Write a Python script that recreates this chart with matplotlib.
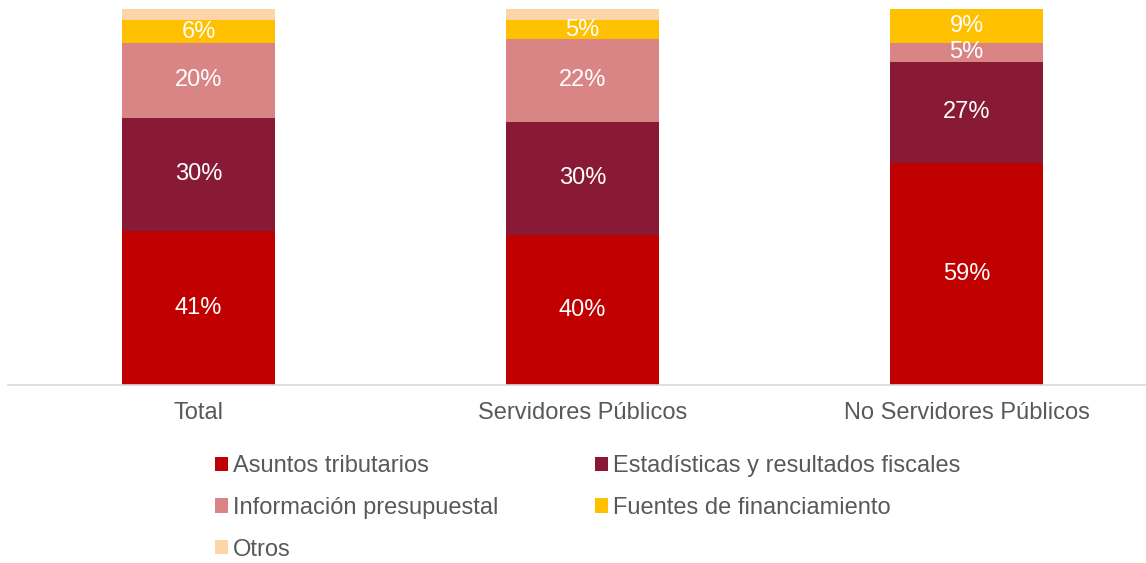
import matplotlib
matplotlib.use("Agg")
import matplotlib.pyplot as plt
from matplotlib.patches import Patch

plt.rcParams['font.family'] = ['Liberation Sans', 'DejaVu Sans']

categories = ["Total", "Servidores Públicos", "No Servidores Públicos"]
series_names = ["Asuntos tributarios", "Estadísticas y resultados fiscales",
                "Información presupuestal", "Fuentes de financiamiento", "Otros"]
asuntos = [41, 40, 59]
estadisticas = [30, 30, 27]
informacion = [20, 22, 5]
fuentes = [6, 5, 9]
otros = [3, 3, 0]
series = [asuntos, estadisticas, informacion, fuentes, otros]
colors = ["#C00000", "#891A35", "#D98585", "#FFC000", "#FDD5A6"]
show_labels = [True, True, True, True, False]

W, H = 1146, 563
fig = plt.figure(figsize=(W / 100, H / 100), dpi=100)
ax = fig.add_axes([8 / W, (H - 385) / H, 1 - 8 / W, (385 - 9) / H])

x = list(range(len(categories)))
bottom = [0] * len(categories)
for vals, col, lab in zip(series, colors, show_labels):
    ax.bar(x, vals, bottom=bottom, width=0.398, color=col, linewidth=0)
    if lab:
        for xi, b, v in zip(x, bottom, vals):
            if v > 0:
                ax.text(xi, b + v / 2, f"{v}%", ha="center", va="center",
                        color="white", fontsize=17)
    bottom = [b + v for b, v in zip(bottom, vals)]

ax.set_xlim(-0.496, 2.467)
ax.set_ylim(0, 100)
for s in ["top", "right", "left"]:
    ax.spines[s].set_visible(False)
ax.spines["bottom"].set_color("#D9D9D9")
ax.spines["bottom"].set_linewidth(1.2)
ax.set_yticks([])
ax.set_xticks(x)
ax.set_xticklabels(categories, fontsize=17, color="#595959")
ax.tick_params(axis="x", length=0, pad=12)

handles = [Patch(facecolor=c, edgecolor="none") for c in colors]
order = [0, 2, 4, 1, 3]
fig.legend([handles[i] for i in order], [series_names[i] for i in order],
           ncol=2, loc="upper left", bbox_to_anchor=(215 / W, 1 - 455 / H),
           frameon=False, fontsize=17, labelcolor="#595959",
           handlelength=0.55, handleheight=0.55, handletextpad=0.2,
           columnspacing=4.1, labelspacing=0.84, borderaxespad=0, borderpad=0)

fig.savefig("out.png", dpi=100)
